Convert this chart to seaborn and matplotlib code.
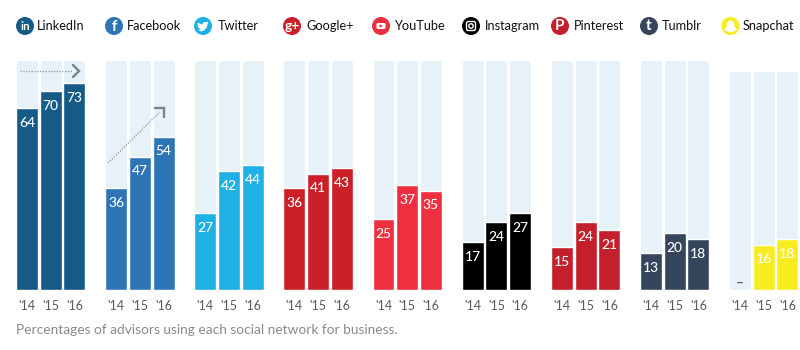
import pandas as pd
import matplotlib
matplotlib.use('Agg')
import matplotlib.pyplot as plt
from matplotlib.patches import Circle, FancyBboxPatch, Polygon, Ellipse
import seaborn as sns

# dados
redes = ['LinkedIn', 'Facebook', 'Twitter', 'Google+', 'YouTube', 'Instagram', 'Pinterest', 'Tumblr', 'Snapchat']
anos = ["'14", "'15", "'16"]
linkedin = [64, 70, 73]
facebook = [36, 47, 54]
twitter = [27, 42, 44]
googleplus = [36, 41, 43]
youtube = [25, 37, 35]
instagram = [17, 24, 27]
pinterest = [15, 24, 21]
tumblr = [13, 20, 18]
snapchat = [None, 16, 18]
valores = [linkedin, facebook, twitter, googleplus, youtube, instagram, pinterest, tumblr, snapchat]
fundo = [81, 81, 81, 81, 81, 81, 81, 81, 77]

cores = ['#165a87', '#2e75b8', '#1fb0e6', '#cb2027', '#ee2f3f', '#000000', '#c4202b', '#35465c', '#f6ec1f']
cor_fundo = '#e6f1f8'
cor_seta = '#76848e'

W, H = 800, 350
sns.set_theme(style='white')
plt.rcParams['font.family'] = ['Lato', 'DejaVu Sans']

fig = plt.figure(figsize=(8, 3.5), dpi=100, facecolor='white')

esquerdas = [16, 105.3, 194.3, 283.3, 372.5, 461.7, 551, 640, 729]
icones_x = [25, 114, 203, 292, 381, 471, 560, 649, 730.5]
textos_x = [37, 127, 218, 306, 395, 485, 574, 662, 743]
escala = 2.84  # px por ponto percentual

for i, rede in enumerate(redes):
    df = pd.DataFrame({'ano': anos, 'valor': valores[i], 'fundo': [fundo[i]] * 3})
    df['valor'] = pd.to_numeric(df['valor'])
    altura = 90 * escala
    ax = fig.add_axes([esquerdas[i] / W, (H - 290) / H, 69.3 / W, altura / H])
    sns.barplot(data=df, x='ano', y='fundo', color=cor_fundo, saturation=1, width=0.92, ax=ax)
    sns.barplot(data=df, x='ano', y='valor', color=cores[i], saturation=1, width=0.92, ax=ax)
    ax.set_xlim(-0.46, 2.46)
    ax.set_ylim(0, 90)
    ax.set_xlabel('')
    ax.set_ylabel('')
    ax.set_yticks([])
    ax.tick_params(axis='x', length=0, pad=7, labelsize=9, labelcolor='#5a5a5a')
    ax.patch.set_alpha(0)
    sns.despine(ax=ax, left=True, bottom=True)
    rotulos = [f'{int(v)}' for v in df['valor'].dropna()]
    ax.bar_label(ax.containers[1], labels=rotulos, padding=-15, color='white',
                 fontsize=10, fontweight='medium')
    if pd.isna(df['valor'].iloc[0]):
        ax.text(0, 2.5, '\u2013', color='#666666', ha='center', va='center',
                fontsize=10, fontweight='bold')

# camada de cima em pixels: icones, titulos, setas, legenda
ov = fig.add_axes([0, 0, 1, 1])
ov.set_xlim(0, W)
ov.set_ylim(H, 0)
ov.axis('off')
ov.patch.set_alpha(0)

cy = 26
for i, rede in enumerate(redes):
    cx = icones_x[i]
    ov.add_patch(Circle((cx, cy), 9, color=cores[i], lw=0))
    ov.text(textos_x[i], cy + 0.5, rede, fontsize=9.2, color='#111111', va='center', ha='left')

def glifo(i, s, size=9, dy=0.5, **kw):
    ov.text(icones_x[i], cy + dy, s, color='white', ha='center', va='center',
            fontsize=size, fontweight='bold', **kw)

glifo(0, 'in', 8.5)
glifo(1, 'f', 11, 1)
# passaro do twitter
tx = icones_x[2]
ov.add_patch(Polygon([(tx - 5.5, cy + 3.5), (tx - 2, cy + 4), (tx - 5, cy + 1), (tx - 5.5, cy - 3.5),
                      (tx - 1, cy - 1.5), (tx + 1, cy - 4), (tx + 4, cy - 4), (tx + 5.5, cy - 4.5),
                      (tx + 4.5, cy - 2), (tx + 4, cy + 1), (tx + 1, cy + 4.5), (tx - 2, cy + 5.5)],
                     color='white', lw=0))
glifo(3, 'g+', 10, -0.5)
# youtube
yx = icones_x[4]
ov.add_patch(FancyBboxPatch((yx - 4.5, cy - 3), 9, 6, boxstyle='round,pad=0,rounding_size=1.5', color='white', lw=0))
ov.add_patch(Polygon([(yx - 1.5, cy - 1.7), (yx + 2, cy), (yx - 1.5, cy + 1.7)], color=cores[4], lw=0))
# instagram
ix = icones_x[5]
ov.add_patch(FancyBboxPatch((ix - 4.5, cy - 4.5), 9, 9, boxstyle='round,pad=0,rounding_size=2', fc='none', ec='white', lw=1))
ov.add_patch(Circle((ix, cy), 2.2, fc='none', ec='white', lw=1))
glifo(6, 'P', 11, 0.5)
glifo(7, 't', 11, 0)
# fantasma do snapchat
sx = icones_x[8]
ov.add_patch(Ellipse((sx, cy - 1), 7.5, 9, color='white', lw=0))
ov.add_patch(Polygon([(sx - 3.8, cy), (sx + 3.8, cy), (sx + 6.5, cy + 4), (sx + 2, cy + 5.8),
                      (sx, cy + 6.5), (sx - 2, cy + 5.8), (sx - 6.5, cy + 4)], color='white', lw=0))

# setas de tendencia
ov.plot([20, 72], [71, 71], color='#9aa7b0', lw=1, ls=(0, (1, 1)))
ov.plot([73, 79, 73], [65, 71, 77], color=cor_seta, lw=1.7, solid_joinstyle='miter')
ov.plot([108, 160], [163, 112], color='#9aa7b0', lw=1, ls=(0, (1, 1)))
ov.plot([155, 164, 164], [108, 108, 117], color=cor_seta, lw=1.7, solid_joinstyle='miter')

ov.text(16, 330, 'Percentages of advisors using each social network for business.',
        fontsize=9.9, color='#8a8a8a', va='center', ha='left')

fig.savefig('out.png', dpi=100, facecolor='white')
